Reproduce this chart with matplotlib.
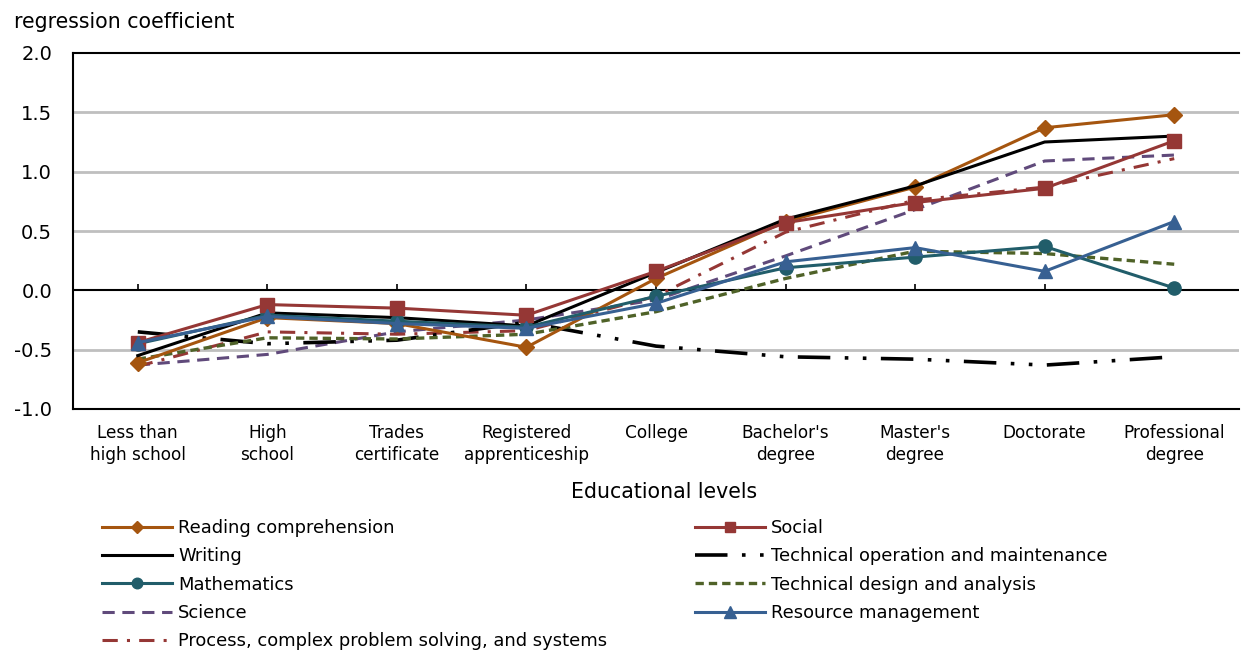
import numpy as np
import matplotlib
matplotlib.use('Agg')
import matplotlib.pyplot as plt

levels = ['Less than\nhigh school', 'High\nschool', 'Trades\ncertificate', 'Registered\napprenticeship',
          'College', "Bachelor's\ndegree", "Master's\ndegree", 'Doctorate', 'Professional\ndegree']

reading = [-0.61, -0.23, -0.28, -0.48, 0.10, 0.58, 0.87, 1.37, 1.48]
social = [-0.44, -0.12, -0.15, -0.21, 0.16, 0.57, 0.74, 0.86, 1.26]
writing = [-0.55, -0.19, -0.23, -0.30, 0.15, 0.60, 0.88, 1.25, 1.30]
tech_op = [-0.35, -0.45, -0.42, -0.27, -0.47, -0.56, -0.58, -0.63, -0.56]
maths = [-0.45, -0.21, -0.26, -0.31, -0.05, 0.19, 0.28, 0.37, 0.02]
tech_design = [-0.58, -0.40, -0.41, -0.37, -0.18, 0.10, 0.33, 0.31, 0.22]
science = [-0.63, -0.54, -0.35, -0.25, -0.08, 0.29, 0.68, 1.09, 1.14]
resource = [-0.44, -0.22, -0.28, -0.32, -0.11, 0.24, 0.36, 0.16, 0.58]
process = [-0.64, -0.35, -0.37, -0.34, -0.05, 0.49, 0.76, 0.87, 1.11]

x = np.arange(len(levels))

plt.rcParams['font.family'] = ['DejaVu Sans']
fig = plt.figure(figsize=(12.41, 6.5), dpi=100)
ax = fig.add_axes([73 / 1241, 1 - 409 / 650, 1166 / 1241, 356 / 650])

lw = 2.2
ax.plot(x, reading, color='#A5550F', lw=lw, marker='D', ms=8, label='Reading comprehension', zorder=5)
ax.plot(x, writing, color='black', lw=lw, label='Writing', zorder=5)
ax.plot(x, maths, color='#215D6A', lw=lw, marker='o', ms=9.5, label='Mathematics', zorder=5)
ax.plot(x, science, color='#604A7B', lw=lw, ls=(0, (4, 2.5)), label='Science', zorder=4)
ax.plot(x, process, color='#953735', lw=lw, ls=(0, (5, 3, 1, 3)),
        label='Process, complex problem solving, and systems', zorder=4)
ax.plot(x, social, color='#953735', lw=lw, marker='s', ms=9.5, label='Social', zorder=5)
ax.plot(x, tech_op, color='black', lw=2.6, ls=(0, (9, 4, 1, 4, 1, 4)),
        label='Technical operation and maintenance', zorder=4)
ax.plot(x, tech_design, color='#4F6228', lw=2.4, ls=(0, (2.5, 1.5)),
        label='Technical design and analysis', zorder=4)
ax.plot(x, resource, color='#376092', lw=lw, marker='^', ms=10.5, label='Resource management', zorder=5)

ax.set_xlim(-0.5, len(levels) - 0.5)
ax.set_ylim(-1.0, 2.0)
ax.set_yticks(np.arange(-1.0, 2.01, 0.5))
ax.set_yticklabels(['%.1f' % v for v in np.arange(-1.0, 2.01, 0.5)], fontsize=14)
for v in [-0.5, 0.5, 1.0, 1.5]:
    ax.axhline(v, color='#BFBFBF', lw=2, zorder=1)
ax.axhline(0, color='black', lw=1.5, zorder=2)
ax.vlines(x, 0, 0.05, color='black', lw=1.2, zorder=2)

ax.set_xticks(x)
ax.set_xticklabels(levels, fontsize=12.2, linespacing=1.3)
ax.tick_params(axis='x', length=0, pad=11)
ax.tick_params(axis='y', length=0, pad=15)
for s in ['left', 'top', 'bottom']:
    ax.spines[s].set_linewidth(1.5)
    ax.spines[s].set_color('black')
ax.spines['right'].set_visible(False)

fig.text(14 / 1241, 1 - 22 / 650, 'regression coefficient', fontsize=14.8, va='center', ha='left')
fig.text(664 / 1241, 1 - 492 / 650, 'Educational levels', fontsize=14.8, va='center', ha='center')

fig.legend(loc='upper left', bbox_to_anchor=(95 / 1241, 1 - 512 / 650), ncol=2, frameon=False,
           fontsize=12.9, handlelength=3.9, handletextpad=0.35, columnspacing=4.9,
           labelspacing=0.57, borderaxespad=0, markerscale=0.8)

fig.savefig('out.png', dpi=100)
